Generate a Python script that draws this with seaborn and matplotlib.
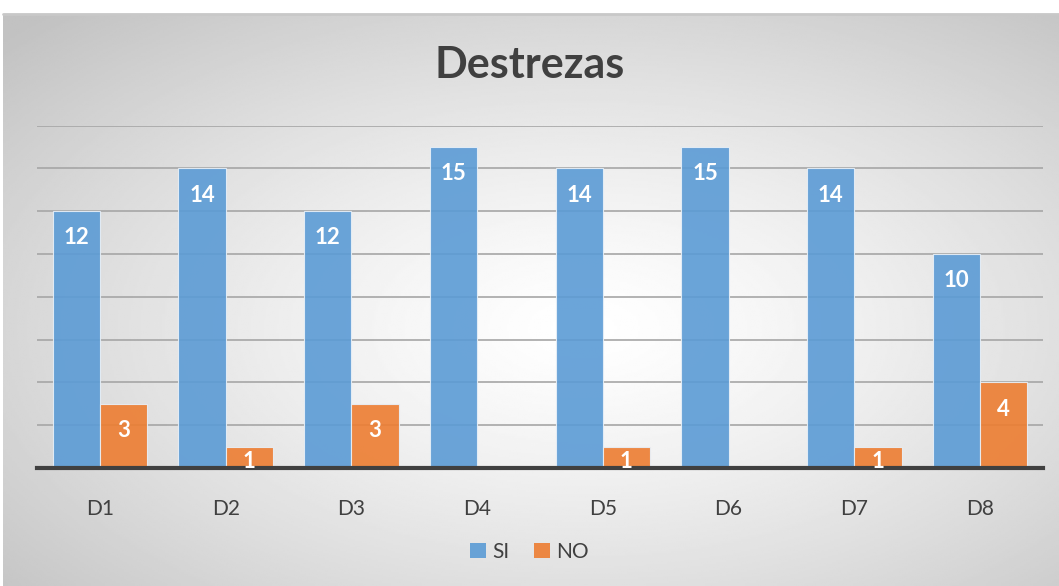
import numpy as np
import pandas as pd
import matplotlib.pyplot as plt
import seaborn as sns

# datos
categorias = ["D1", "D2", "D3", "D4", "D5", "D6", "D7", "D8"]
si_vals = [12, 14, 12, 15, 14, 15, 14, 10]
no_vals = [3, 1, 3, 0, 1, 0, 1, 4]
series = ["SI", "NO"]
colores = ["#5B9BD5", "#ED7D31"]

df = pd.DataFrame({
    "cat": categorias * 2,
    "serie": ["SI"] * len(categorias) + ["NO"] * len(categorias),
    "valor": si_vals + no_vals,
})

sns.set_style("white")
plt.rcParams['font.family'] = ['Lato', 'DejaVu Sans']

W, H = 1059, 586
fig = plt.figure(figsize=(W / 100, H / 100), dpi=100)
fig.patch.set_facecolor("white")

# fondo con degradado radial
bg = fig.add_axes([3 / W, 0, 1 - 3 / W, (H - 14) / H])
yy, xx = np.mgrid[0:1:300j, 0:1:500j]
r = np.sqrt(((xx - 0.55) / 0.75) ** 2 + ((yy - 0.45) / 0.75) ** 2)
r = np.clip(r, 0, 1)
grad = 1.0 - 0.24 * r ** 1.3
bg.imshow(grad, cmap="gray", vmin=0, vmax=1, aspect="auto",
          extent=[0, 1, 0, 1], origin="lower")
bg.set_axis_off()
fig.add_artist(plt.Line2D([3 / W, 1], [(H - 14) / H] * 2, color="#c8c8c8", lw=2))

ax = fig.add_axes([37 / W, (H - 468) / H, (1043 - 37) / W, (468 - 125.6) / H])
ax.patch.set_alpha(0)

sns.barplot(data=df, x="cat", y="valor", hue="serie", hue_order=series,
            palette=colores, saturation=1, width=0.75, gap=0, alpha=0.9, ax=ax,
            edgecolor="#e8f0f8", linewidth=0.8, legend=False)

ax.set_ylim(0, 16)
ax.set_xlim(-0.5, len(categorias) - 0.5)
ax.set_yticks(np.arange(2, 17, 2))
ax.yaxis.grid(True, color="#a6a6a6", linewidth=1.2)
ax.set_axisbelow(True)
ax.tick_params(axis="y", left=False, labelleft=False)
ax.tick_params(axis="x", length=0, pad=22, labelsize=15, labelcolor="#404040")
ax.set_xlabel("")
ax.set_ylabel("")
for s in ["top", "right", "left"]:
    ax.spines[s].set_visible(False)
ax.spines["bottom"].set_color("#404040")
ax.spines["bottom"].set_linewidth(3)

# etiquetas
for i, cat in enumerate(categorias):
    for j, vals in enumerate([si_vals, no_vals]):
        v = vals[i]
        if v == 0:
            continue
        x = i - 0.1875 + j * 0.375
        ax.text(x, max(v - 1.25, 0.3), str(v), ha="center", va="center",
                color="white", fontsize=16, fontweight="bold")

fig.text(0.5, (H - 65) / H, "Destrezas", ha="center", va="center",
         fontsize=31, fontweight="bold", color="#404040")

handles = [plt.Rectangle((0, 0), 1, 1, facecolor=c, edgecolor="none", alpha=0.9)
           for c in colores]
fig.legend(handles, series, loc="center", bbox_to_anchor=(0.5, (H - 552) / H),
           ncol=2, frameon=False, fontsize=15, handlelength=0.75, handleheight=0.75,
           handletextpad=0.3, columnspacing=1.2, labelcolor="#404040")

plt.savefig("out.png", dpi=100)
